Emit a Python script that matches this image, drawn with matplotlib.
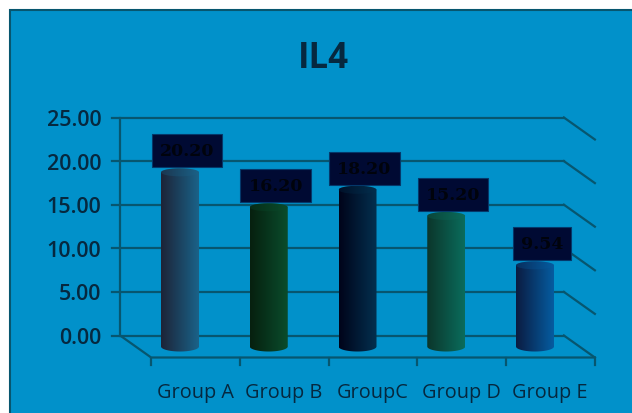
import numpy as np
import matplotlib
matplotlib.use('Agg')
import matplotlib.pyplot as plt
from matplotlib.colors import LinearSegmentedColormap
from matplotlib.patches import PathPatch, Rectangle, Ellipse
from matplotlib.path import Path

groups = ['Group A', 'Group B', 'GroupC', 'Group D', 'Group E']
values = [20.20, 16.20, 18.20, 15.20, 9.54]
value_labels = ['20.20', '16.20', '18.20', '15.20', '9.54']
y_ticks = [0, 5, 10, 15, 20, 25]
left_colors = ['#1d2438', '#06200f', '#00041a', '#0c362b', '#0b1c42']
right_colors = ['#1a6288', '#0a4c2c', '#03304f', '#0a6c5c', '#055ca0']

BG = '#0191ca'
LINE = '#07566f'
TEXT = '#06283f'

# pixel scale of the reference
px_x = 88.75
px_y = 8.72
depth_x = 31 / px_x
depth_y = 22 / px_y
half_w = 19 / px_x
cap_h = 4 / px_y
bottom_h = 5 / px_y
base = -13 / px_y

fig = plt.figure(figsize=(6.32, 4.14), dpi=100)
ax = fig.add_axes([0, 0, 1, 1])
ax.axis('off')
xlim = (-180 / px_x, (632 - 180) / px_x)
ylim = ((336.5 - 414) / px_y, 336.5 / px_y)

ax.add_patch(Rectangle((xlim[0] + 9.5 / px_x, ylim[0] - 1), 640 / px_x, ylim[1] - ylim[0] - 10.5 / px_y + 1,
                       fc=BG, ec=LINE, lw=1.5, zorder=0))

x0 = -0.5 - depth_x / 2
x1 = 4.5 - depth_x / 2
for t in y_ticks:
    ax.plot([x0 - 8 / px_x, x1], [t, t], color=LINE, lw=1.6, zorder=1)
    ax.plot([x1, x1 + depth_x], [t, t - depth_y], color=LINE, lw=1.6, zorder=1)
    ax.text(x0 - 19 / px_x, t - 2 / px_y, f'{t:.2f}', ha='right', va='center', color=TEXT,
            fontsize=15.5, family='Open Sans', weight='semibold')
ax.plot([x0, x0], [0, 25], color=LINE, lw=1.6, zorder=1)
ax.plot([x0, x0 + depth_x, x1 + depth_x], [0, -depth_y, -depth_y], color=LINE, lw=1.6, zorder=1)
for i in range(6):
    xt = i - 0.5 + depth_x / 2
    ax.plot([xt, xt], [-depth_y, -depth_y - 7 / px_y], color=LINE, lw=1.6, zorder=1)

t = np.linspace(0, np.pi, 40)
for i, v in enumerate(values):
    top = v + base
    # cylinder outline: top arc then bottom arc
    xs = np.r_[i - half_w * np.cos(t), i + half_w * np.cos(t)]
    ys = np.r_[top + cap_h * np.sin(t), base + 2 / px_y - bottom_h * np.sin(t)]
    cm = LinearSegmentedColormap.from_list('c', [left_colors[i], right_colors[i]])
    im = ax.imshow(np.linspace(0, 1, 64)[None, :], cmap=cm, aspect='auto', zorder=2,
                   extent=(i - half_w, i + half_w, base - bottom_h, top + cap_h))
    clip = PathPatch(Path(np.c_[xs, ys]), transform=ax.transData, fc='none', ec='none')
    ax.add_patch(clip)
    im.set_clip_path(clip)
    ax.add_patch(Ellipse((i, top), 2 * half_w, 2 * cap_h, fc=right_colors[i], ec='none', alpha=0.3, zorder=3))
    ax.annotate(value_labels[i], (i, top), xytext=(5, 15.5), textcoords='offset points',
                ha='center', va='center', fontsize=12.5, family='DejaVu Serif', weight='bold',
                color='#00030c', zorder=5,
                bbox=dict(boxstyle='square,pad=0.46', fc='#000a33', ec='#04386a', lw=0.8))
    ax.text(i + 0.17, -depth_y - 35 / px_y, groups[i], ha='center', va='center', color=TEXT,
            fontsize=14.3, family='Open Sans')

ax.text(1.615, 31.8, 'IL4', ha='center', va='center', color=TEXT, fontsize=25,
        family='Open Sans', weight='bold')

ax.set_xlim(xlim)
ax.set_ylim(ylim)
fig.savefig('out.png', dpi=100, facecolor='white')
